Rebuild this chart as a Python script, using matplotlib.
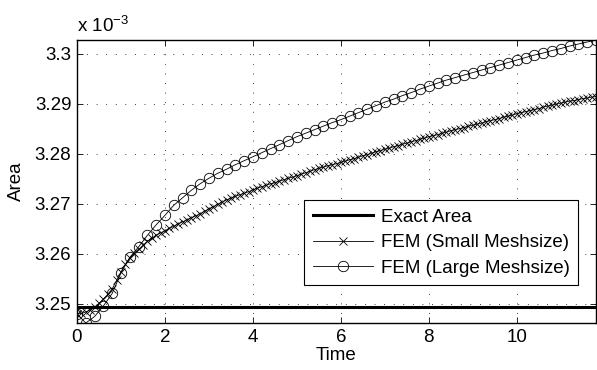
import numpy as np
import matplotlib
matplotlib.use("Agg")
import matplotlib.pyplot as plt

plt.rcParams['font.family'] = ['Liberation Sans', 'DejaVu Sans']
plt.rcParams['mathtext.fontset'] = 'custom'
plt.rcParams['mathtext.rm'] = 'Liberation Sans'

# area of the drop (in units of 1e-3)
exact_area = 3.2493

# fine mesh, dt = 0.1
t_small = np.arange(119) * 0.1
area_small = [
    3.2480, 3.2481, 3.2484, 3.2488, 3.2494, 3.2501, 3.2510, 3.2519, 3.2530, 3.2547,
    3.2564, 3.2579, 3.2592, 3.2601, 3.2609, 3.2617, 3.2625, 3.2631, 3.2637, 3.2642,
    3.2646, 3.2651, 3.2655, 3.2660, 3.2664, 3.2668, 3.2672, 3.2676, 3.2680, 3.2685,
    3.2690, 3.2694, 3.2699, 3.2703, 3.2708, 3.2711, 3.2715, 3.2718, 3.2721, 3.2724,
    3.2728, 3.2731, 3.2734, 3.2737, 3.2740, 3.2742, 3.2745, 3.2748, 3.2751, 3.2753,
    3.2756, 3.2759, 3.2762, 3.2765, 3.2768, 3.2771, 3.2773, 3.2776, 3.2778, 3.2780,
    3.2783, 3.2785, 3.2788, 3.2790, 3.2793, 3.2796, 3.2798, 3.2801, 3.2804, 3.2806,
    3.2809, 3.2811, 3.2814, 3.2816, 3.2819, 3.2821, 3.2824, 3.2826, 3.2829, 3.2831,
    3.2834, 3.2836, 3.2838, 3.2841, 3.2843, 3.2846, 3.2848, 3.2850, 3.2852, 3.2855,
    3.2857, 3.2859, 3.2861, 3.2864, 3.2866, 3.2868, 3.2870, 3.2873, 3.2875, 3.2877,
    3.2880, 3.2882, 3.2884, 3.2886, 3.2888, 3.2890, 3.2893, 3.2895, 3.2897, 3.2899,
    3.2901, 3.2903, 3.2905, 3.2906, 3.2908, 3.2910, 3.2911, 3.2913, 3.2914,
]

# coarse mesh, dt = 0.2
t_large = np.arange(60) * 0.2
area_large = [
    3.2480, 3.2462, 3.2475, 3.2496, 3.2521, 3.2562, 3.2593, 3.2614, 3.2637, 3.2658,
    3.2677, 3.2697, 3.2712, 3.2727, 3.2740, 3.2751, 3.2761, 3.2769, 3.2778, 3.2786,
    3.2794, 3.2802, 3.2810, 3.2818, 3.2826, 3.2834, 3.2841, 3.2848, 3.2855, 3.2862,
    3.2868, 3.2875, 3.2882, 3.2889, 3.2896, 3.2903, 3.2909, 3.2916, 3.2922, 3.2929,
    3.2935, 3.2941, 3.2947, 3.2952, 3.2957, 3.2962, 3.2967, 3.2972, 3.2977, 3.2982,
    3.2987, 3.2992, 3.2997, 3.3001, 3.3006, 3.3010, 3.3015, 3.3019, 3.3023, 3.3027,
]

fs = 13.5

fig = plt.figure(figsize=(5.97, 3.70), dpi=100)
ax = fig.add_axes([77 / 597, 47 / 370, 519 / 597, 283 / 370])

ax.plot([t_small[0], t_small[-1]], [exact_area, exact_area], color='black', lw=2.2,
        label='Exact Area')
ax.plot(t_small, area_small, color='black', lw=0.6, marker='x', markersize=6,
        markeredgewidth=0.6, label='FEM (Small Meshsize)')
ax.plot(t_large, area_large, color='black', lw=0.6, marker='o', markersize=7.5,
        markerfacecolor='none', markeredgewidth=0.6, label='FEM (Large Meshsize)')

ax.set_xlim(0, t_small[-1])
ax.set_ylim(min(area_large), max(area_large))
ax.set_xticks([0, 2, 4, 6, 8, 10])
ax.set_yticks([3.25, 3.26, 3.27, 3.28, 3.29, 3.30])
ax.set_yticklabels(['3.25', '3.26', '3.27', '3.28', '3.29', '3.3'])

ax.grid(True, color='black', linestyle=(0, (1, 10.5)), linewidth=0.6)
ax.tick_params(direction='in', top=True, right=True, length=4, width=0.6,
               labelsize=fs, pad=4)
for s in ax.spines.values():
    s.set_linewidth(1.0)

ax.set_xlabel('Time', fontsize=fs, labelpad=1)
ax.set_ylabel('Area', fontsize=fs, labelpad=7)
ax.text(0, 1.015, r'x 10$^{-3}$', transform=ax.transAxes, fontsize=fs,
        ha='left', va='bottom')

leg = ax.legend(loc='lower right', bbox_to_anchor=(0.966, 0.134), borderaxespad=0,
                fancybox=False, edgecolor='black', fontsize=fs, handlelength=3.2,
                handletextpad=0.45, framealpha=1, borderpad=0.45, labelspacing=0.45)
leg.get_frame().set_linewidth(0.8)

fig.savefig('out.png', dpi=100)
